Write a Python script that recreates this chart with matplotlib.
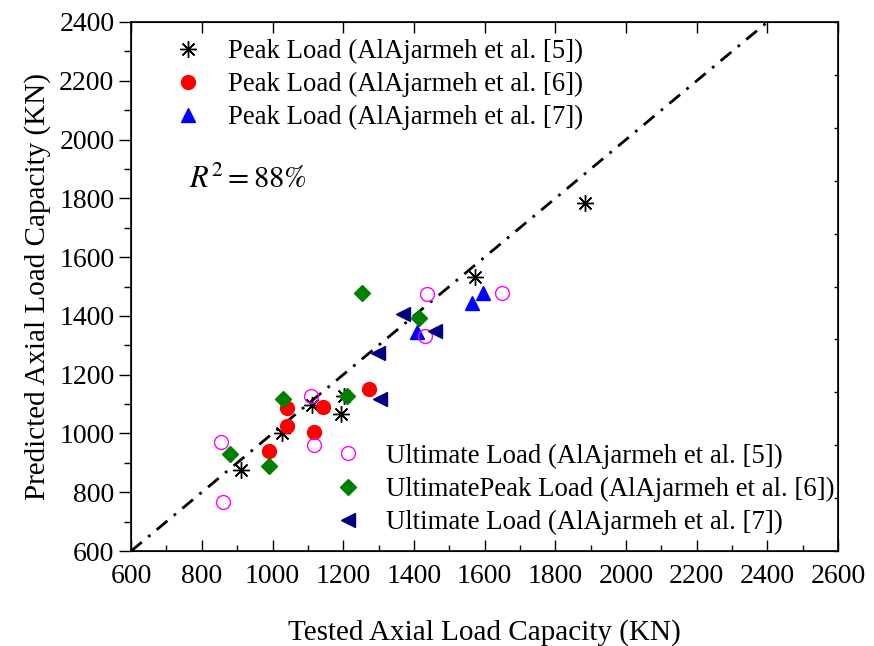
import matplotlib
matplotlib.use('Agg')
import matplotlib.pyplot as plt
from matplotlib.ticker import MultipleLocator
import numpy as np

plt.rcParams['font.family'] = ['Liberation Serif', 'DejaVu Serif']
plt.rcParams['mathtext.fontset'] = 'stix'

# Peak loads (tested, predicted)
peak5_x = [910, 1026, 1111, 1193, 1203, 1573, 1884]
peak5_y = [876, 1002, 1097, 1066, 1127, 1532, 1783]
peak6_x = [989, 1040, 1040, 1116, 1144, 1273]
peak6_y = [941, 1025, 1086, 1006, 1091, 1151]
peak7_x = [1408, 1563, 1594]
peak7_y = [1346, 1443, 1477]

# Ultimate loads
ult5_x = [855, 859, 1108, 1116, 1430, 1438, 1648]
ult5_y = [972, 766, 1127, 961, 1333, 1473, 1477]
ult6_x = [880, 991, 1031, 1210, 1413, 1253]
ult6_y = [929, 889, 1117, 1127, 1392, 1477]
ult7_x = [1298, 1304, 1370, 1460]
ult7_y = [1273, 1116, 1405, 1350]

line_x = [600, 2400]
line_y = [600, 2400]

fig = plt.figure(figsize=(8.74, 6.46), dpi=100)
ax = fig.add_axes([0.150, 0.147, 0.809, 0.819])

ax.plot(line_x, line_y, color='black', linewidth=2, dashes=(5, 3, 1, 3), zorder=1)

h1 = ax.plot(peak5_x, peak5_y, linestyle='none', marker=(8, 2, 0), markersize=12,
             markeredgewidth=1.0, color='black', label='Peak Load (AlAjarmeh et al. [5])')[0]
h2 = ax.plot(peak6_x, peak6_y, linestyle='none', marker='o', markersize=10,
             color='#ff0000', label='Peak Load (AlAjarmeh et al. [6])')[0]
h3 = ax.plot(peak7_x, peak7_y, linestyle='none', marker='^', markersize=10,
             color='#0000ff', label='Peak Load (AlAjarmeh et al. [7])')[0]
h4 = ax.plot(ult5_x, ult5_y, linestyle='none', marker='o', markersize=10, markerfacecolor='none',
             markeredgecolor='#ff00ff', markeredgewidth=1.0, label='Ultimate Load (AlAjarmeh et al. [5])')[0]
h5 = ax.plot(ult6_x, ult6_y, linestyle='none', marker='D', markersize=8,
             color='#008000', label='UltimatePeak Load (AlAjarmeh et al. [6])')[0]
h6 = ax.plot(ult7_x, ult7_y, linestyle='none', marker='<', markersize=10,
             color='#000080', label='Ultimate Load (AlAjarmeh et al. [7])')[0]

ax.set_xlim(600, 2600)
ax.set_ylim(600, 2400)
ax.xaxis.set_major_locator(MultipleLocator(200))
ax.xaxis.set_minor_locator(MultipleLocator(100))
ax.yaxis.set_major_locator(MultipleLocator(200))
ax.yaxis.set_minor_locator(MultipleLocator(100))

ax.tick_params(axis='x', which='major', direction='in', length=8, width=1, top=True, labelsize=20, pad=9)
ax.tick_params(axis='x', which='minor', direction='in', length=4, width=1, top=False)
ax.tick_params(axis='y', which='major', direction='out', length=9, width=1, labelsize=20, pad=3)
ax.tick_params(axis='y', which='minor', direction='out', length=5, width=1)
for s in ax.spines.values():
    s.set_linewidth(1.2)

# small inward ticks on the right side
ax2 = ax.twinx()
ax2.set_ylim(600, 2400)
ax2.set_yticks(np.linspace(600, 2400, 11))
ax2.tick_params(axis='y', direction='in', length=3, width=1, labelright=False)

ax.set_xlabel('Tested Axial Load Capacity (KN)', fontsize=21, labelpad=22)
ax.set_ylabel('Predicted Axial Load Capacity (KN)', fontsize=21, labelpad=6)

ax.text(765, 1862, r'$R^2 = 88\%$', fontsize=22, va='center', ha='left')

leg1 = ax.legend(handles=[h1, h2, h3], loc='upper left', bbox_to_anchor=(0.042, 0.968),
                 frameon=False, fontsize=19.3, handletextpad=0.5, labelspacing=0.3,
                 borderaxespad=0, borderpad=0)
ax.add_artist(leg1)
ax.legend(handles=[h4, h5, h6], loc='lower left', bbox_to_anchor=(0.269, 0.03),
          frameon=False, fontsize=19.3, handletextpad=0.4, labelspacing=0.3,
          borderaxespad=0, borderpad=0)

fig.savefig('out.png', dpi=100)
